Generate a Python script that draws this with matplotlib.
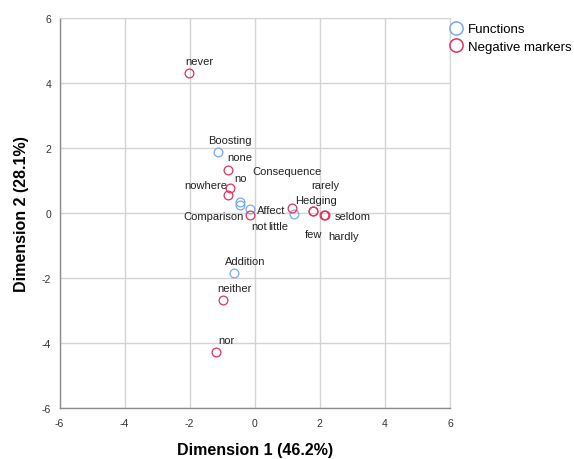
import matplotlib.pyplot as plt
from matplotlib.lines import Line2D

# category points (dimension 1, dimension 2)
functions = ['Boosting', 'Consequence', 'Comparison', 'Affect', 'Hedging', 'Addition']
func_d1 = [-1.12, -0.45, -0.45, -0.14, 1.22, -0.65]
func_d2 = [1.88, 0.35, 0.25, 0.12, -0.03, -1.85]

negatives = ['never', 'none', 'no', 'nowhere', 'not', 'little', 'rarely', 'few',
             'seldom', 'hardly', 'neither', 'nor']
neg_d1 = [-2.03, -0.83, -0.75, -0.83, -0.16, 1.14, 1.78, 1.80, 2.14, 2.16, -0.98, -1.20]
neg_d2 = [4.31, 1.32, 0.76, 0.55, -0.07, 0.14, 0.06, 0.05, -0.05, -0.07, -2.68, -4.28]

ticks = [-6, -4, -2, 0, 2, 4, 6]

# label offsets in pixels (SPSS-style placement)
func_off = [(12, 12), (47, 31), (-27, -11), (21, -1), (22, 14), (12, 12)]
neg_off = [(11, 12), (12, 13), (10, 10), (-22, 10), (10, -11), (-14, -18),
           (13, 26), (0, -23), (28, -1), (19, -21), (12, 12), (11, 12)]

blue = '#78aae8'
red = '#e0325c'

plt.rcParams['font.family'] = ['Liberation Sans', 'DejaVu Sans']
plt.rcParams['axes.unicode_minus'] = False

fig = plt.figure(figsize=(5.74, 4.6), dpi=100)
ax = fig.add_axes([59.5 / 574, 51 / 460, 390.5 / 574, 390 / 460])

ax.plot(func_d1, func_d2, 'o', ms=6.3, mfc='none', mec=blue, mew=0.9, zorder=3)
ax.plot(neg_d1, neg_d2, 'o', ms=6.3, mfc='none', mec=red, mew=0.9, zorder=3)

for name, x, y, off in zip(functions, func_d1, func_d2, func_off):
    ax.annotate(name, (x, y), xytext=off, textcoords='offset pixels',
                ha='center', va='center', fontsize=8, color='#222222')
for name, x, y, off in zip(negatives, neg_d1, neg_d2, neg_off):
    ax.annotate(name, (x, y), xytext=off, textcoords='offset pixels',
                ha='center', va='center', fontsize=8, color='#222222')

ax.set_xlim(-6, 6)
ax.set_ylim(-6, 6)
ax.set_xticks(ticks)
ax.set_yticks(ticks)
ax.grid(True, color='#d4d4d4', lw=1)
ax.set_axisbelow(True)
ax.tick_params(length=0, labelsize=7.5, colors='#333333')
ax.tick_params(axis='x', pad=7)
ax.tick_params(axis='y', pad=6)
for s in ['top', 'right']:
    ax.spines[s].set_color('#d4d4d4')
for s in ['left', 'bottom']:
    ax.spines[s].set_color('#8c8c8c')
    ax.spines[s].set_linewidth(1)

ax.set_xlabel('Dimension 1 (46.2%)', fontsize=11.5, fontweight='bold', labelpad=10)
ax.set_ylabel('Dimension 2 (28.1%)', fontsize=11.5, fontweight='bold', labelpad=9)

handles = [Line2D([], [], ls='none', marker='o', ms=9.5, mfc='none', mec=blue, mew=1.1),
           Line2D([], [], ls='none', marker='o', ms=9.5, mfc='none', mec=red, mew=1.1)]
fig.legend(handles, ['Functions', 'Negative markers'], loc='upper left',
           bbox_to_anchor=(451 / 574, 1 - 24 / 460), frameon=False, fontsize=9.5,
           handlelength=0.8, handletextpad=0.5, labelspacing=0.4, borderaxespad=0,
           borderpad=0)

fig.savefig('out.png', dpi=100)
